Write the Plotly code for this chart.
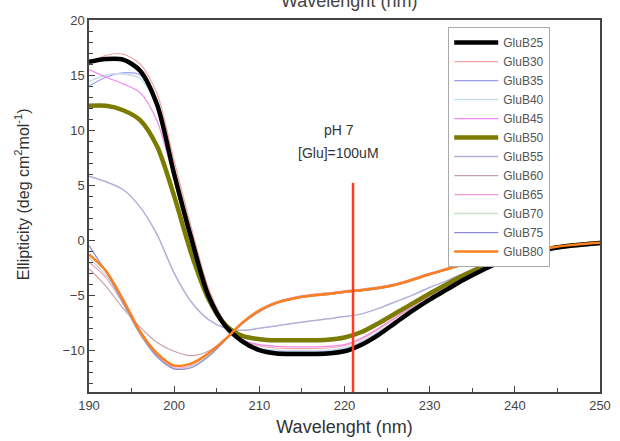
import plotly.graph_objects as go

wavelength = list(range(190, 251, 2))

GluB25 = [16.2, 16.45, 16.4, 15.4, 12.3, 6.0, 0.2, -5.0, -7.8, -9.2, -10.0, -10.3, -10.35, -10.35, -10.3, -10.1,
          -9.5, -8.6, -7.5, -6.4, -5.4, -4.5, -3.6, -2.8, -2.1, -1.6, -1.15, -0.8, -0.55, -0.4, -0.25]
GluB30 = [16.0, 16.8, 16.9, 16.0, 13.3, 7.2, 1.2, -4.3, -7.5, -9.0, -9.6, -9.8, -9.85, -9.85, -9.8, -9.6,
          -9.0, -8.1, -7.1, -6.1, -5.2, -4.3, -3.5, -2.7, -2.05, -1.55, -1.1, -0.8, -0.55, -0.4, -0.25]
GluB35 = [14.0, 14.8, 15.2, 15.0, 12.5, 6.3, 0.3, -4.9, -7.8, -9.2, -9.9, -10.1, -10.15, -10.15, -10.1, -9.9,
          -9.3, -8.4, -7.4, -6.3, -5.3, -4.4, -3.5, -2.75, -2.1, -1.6, -1.15, -0.8, -0.55, -0.4, -0.25]
GluB40 = [14.4, 15.0, 15.1, 14.7, 12.2, 6.1, 0.2, -4.9, -7.8, -9.2, -9.8, -10.0, -10.05, -10.05, -10.0, -9.8,
          -9.2, -8.3, -7.3, -6.2, -5.2, -4.3, -3.45, -2.7, -2.05, -1.55, -1.1, -0.8, -0.55, -0.4, -0.25]
GluB45 = [15.5, 14.8, 14.2, 13.4, 10.8, 5.5, -0.3, -5.3, -7.9, -9.1, -9.5, -9.65, -9.7, -9.7, -9.65, -9.5,
          -8.9, -8.0, -7.0, -6.0, -5.1, -4.2, -3.4, -2.65, -2.0, -1.5, -1.1, -0.8, -0.55, -0.4, -0.25]
GluB50 = [12.2, 12.2, 11.8, 10.9, 8.5, 4.0, -1.2, -5.3, -7.7, -8.7, -9.0, -9.1, -9.1, -9.1, -9.05, -8.85,
          -8.35, -7.55, -6.65, -5.75, -4.85, -4.0, -3.2, -2.5, -1.9, -1.4, -1.0, -0.75, -0.55, -0.4, -0.25]
GluB55 = [5.8, 5.3, 4.6, 3.0, 0.5, -3.0, -5.6, -7.2, -8.0, -8.2, -8.0, -7.8, -7.55, -7.35, -7.15, -6.95,
          -6.7, -6.2, -5.6, -5.0, -4.3, -3.7, -3.0, -2.3, -1.7, -1.3, -0.95, -0.7, -0.5, -0.35, -0.25]
GluB60 = [-2.6, -4.2, -6.2, -7.9, -9.3, -10.1, -10.5, -10.1, -9.0, -7.5, -6.3, -5.6, -5.2, -4.95, -4.8, -4.6,
          -4.45, -4.25, -3.95, -3.5, -3.0, -2.55, -2.1, -1.75, -1.45, -1.1, -0.85, -0.65, -0.5, -0.35, -0.25]
GluB65 = [-2.0, -3.4, -5.8, -8.5, -10.5, -11.6, -11.4, -10.4, -9.0, -7.5, -6.4, -5.65, -5.25, -5.0, -4.85, -4.65,
          -4.5, -4.3, -4.0, -3.55, -3.05, -2.6, -2.15, -1.8, -1.5, -1.15, -0.9, -0.7, -0.5, -0.35, -0.25]
GluB70 = [-1.6, -3.2, -5.8, -8.6, -10.6, -11.7, -11.5, -10.5, -9.1, -7.6, -6.5, -5.75, -5.35, -5.1, -4.95, -4.75,
          -4.6, -4.4, -4.1, -3.65, -3.15, -2.7, -2.25, -1.85, -1.5, -1.15, -0.9, -0.7, -0.5, -0.35, -0.25]
GluB75 = [-0.5, -2.9, -5.7, -8.5, -10.6, -11.7, -11.6, -10.6, -9.1, -7.6, -6.5, -5.75, -5.35, -5.1, -4.95, -4.75,
          -4.6, -4.4, -4.1, -3.65, -3.15, -2.7, -2.25, -1.85, -1.5, -1.15, -0.9, -0.7, -0.5, -0.35, -0.25]
GluB80 = [-1.3, -2.8, -5.4, -8.3, -10.3, -11.4, -11.2, -10.3, -9.0, -7.5, -6.4, -5.7, -5.3, -5.05, -4.9, -4.7,
          -4.55, -4.35, -4.05, -3.6, -3.1, -2.65, -2.2, -1.8, -1.5, -1.15, -0.9, -0.7, -0.5, -0.35, -0.25]

series_names = ["GluB25", "GluB30", "GluB35", "GluB40", "GluB45", "GluB50",
                "GluB55", "GluB60", "GluB65", "GluB70", "GluB75", "GluB80"]
series_values = [GluB25, GluB30, GluB35, GluB40, GluB45, GluB50,
                 GluB55, GluB60, GluB65, GluB70, GluB75, GluB80]
colors = ["#000000", "#f4a6a6", "#9c9cf0", "#c6dde8", "#ee88ee", "#7b7b00",
          "#b0b0d8", "#c8a0a8", "#f29ad0", "#c8e0c8", "#8c8cd8", "#ff7f1e"]
widths = [4.5, 1.2, 1.2, 1.4, 1.2, 4.5, 1.5, 1.2, 1.2, 1.4, 1.2, 2.5]
draw_order = [1, 2, 3, 4, 6, 7, 8, 9, 10, 5, 0, 11]

marker_wl = 221
marker_top = 5.2
y_range = [-13.8, 20]

fig = go.Figure()
for i in draw_order:
    fig.add_trace(go.Scatter(
        x=wavelength, y=series_values[i], name=series_names[i], mode="lines",
        line=dict(color=colors[i], width=widths[i], shape="spline", smoothing=0.8),
        legendrank=100 + i))

fig.add_trace(go.Scatter(x=[marker_wl, marker_wl], y=[y_range[0], marker_top], mode="lines",
                         line=dict(color="#ff3b22", width=2.5), showlegend=False))

axis_common = dict(showline=True, linecolor="#444", linewidth=1.5, mirror=True, automargin=False,
                   ticks="inside", ticklen=6, tickcolor="#444", showgrid=False, zeroline=False,
                   tickfont=dict(size=13, color="#444"))

fig.update_xaxes(range=[190, 250], dtick=10, tick0=190, ticklabelstandoff=1,
                 minor=dict(dtick=5, ticks="inside", ticklen=4, tickcolor="#444"),
                 title=dict(text="Wavelenght (nm)", font=dict(size=18, color="#333"), standoff=8),
                 **axis_common)
fig.update_yaxes(range=y_range, dtick=5, tick0=0,
                 minor=dict(dtick=1, ticks="inside", ticklen=4, tickcolor="#444"),
                 **axis_common)

fig.add_annotation(x=-0.131, y=0.532, xref="paper", yref="paper", textangle=-90,
                   xanchor="center", yanchor="middle",
                   text="Ellipticity (deg cm<sup>2</sup>mol<sup>-1</sup>)", showarrow=False,
                   font=dict(size=16, color="#333"))
fig.add_annotation(x=219.3, y=10.0, text="pH 7", showarrow=False,
                   font=dict(size=14, color="#333"))
fig.add_annotation(x=219.3, y=7.9, text="[Glu]=100uM", showarrow=False,
                   font=dict(size=14, color="#333"))
fig.add_annotation(x=0.508, y=1.0511, xref="paper", yref="paper", xanchor="center", yanchor="middle",
                   text="Wavelenght (nm)", showarrow=False, font=dict(size=18, color="#444"))

fig.update_layout(
    width=620, height=441,
    margin=dict(l=89, r=20, t=20, b=49),
    paper_bgcolor="white", plot_bgcolor="white",
    font=dict(family="Liberation Sans, Arial, sans-serif", color="#444"),
    legend=dict(x=0.703, y=0.981, xanchor="left", yanchor="top",
                bgcolor="white", bordercolor="#aaa", borderwidth=1,
                font=dict(size=12, color="#555"), tracegroupgap=0, itemwidth=44),
)

fig.write_html("out.html")
